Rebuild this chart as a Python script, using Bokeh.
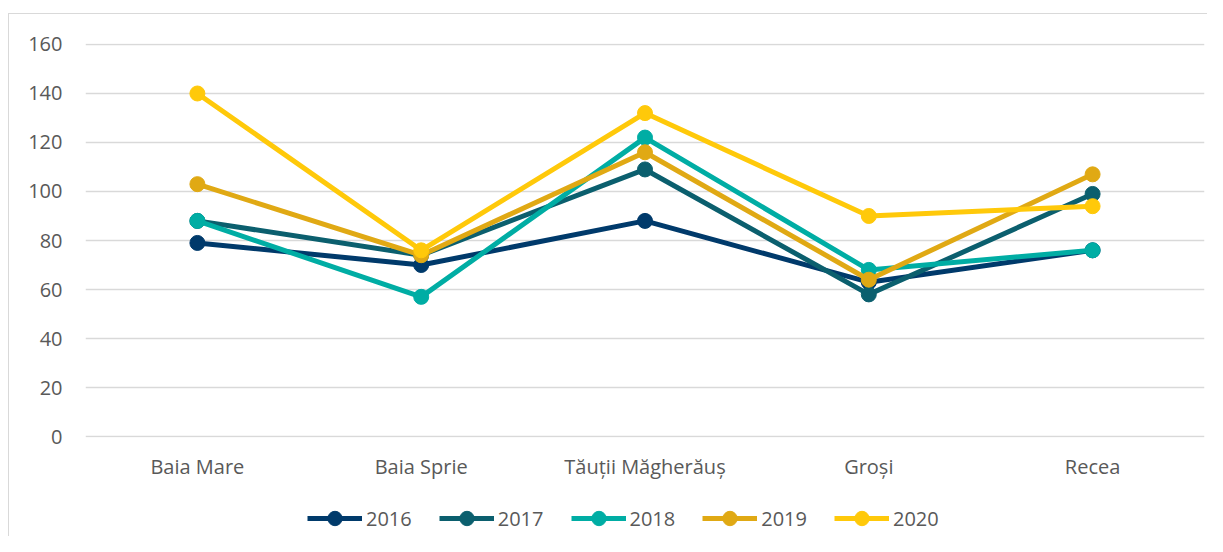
from bokeh.plotting import figure
from bokeh.layouts import column
from bokeh.models import Legend, LegendItem, FixedTicker, Range1d
from bokeh.embed import file_html
from bokeh.resources import INLINE

categories = ["Baia Mare", "Baia Sprie", "Tăuții Măgherăuș", "Groși", "Recea"]
years = ["2016", "2017", "2018", "2019", "2020"]
v2016 = [79, 70, 88, 63, 76]
v2017 = [88, 74, 109, 58, 99]
v2018 = [88, 57, 122, 68, 76]
v2019 = [103, 74, 116, 64, 107]
v2020 = [140, 76, 132, 90, 94]
series = [v2016, v2017, v2018, v2019, v2020]
colors = ["#003A6B", "#0B5F6E", "#00ADA4", "#E0A914", "#FFC90A"]
y_ticks = [0, 20, 40, 60, 80, 100, 120, 140, 160]

FONT = "Open Sans"
TXT = "#595959"

p = figure(x_range=categories, width=1198, height=468, output_backend="svg",
           toolbar_location=None, min_border_left=76, min_border_right=3,
           min_border_top=29, min_border_bottom=45)
p.y_range = Range1d(-0.4, 160.4)
p.x_range.range_padding = 0
p.outline_line_color = None
p.background_fill_color = "white"
p.border_fill_color = "white"

p.yaxis.ticker = FixedTicker(ticks=y_ticks)
for ax in (p.xaxis, p.yaxis):
    ax.axis_line_color = None
    ax.major_tick_line_color = None
    ax.minor_tick_line_color = None
    ax.major_tick_out = 0
    ax.major_tick_in = 0
    ax.major_label_text_font = FONT
    ax.major_label_text_font_size = "20px"
    ax.major_label_text_color = TXT
p.yaxis.major_label_standoff = 23
p.xaxis.major_label_standoff = 15
p.xgrid.grid_line_color = None
p.ygrid.grid_line_color = "#d9d9d9"
p.ygrid.grid_line_width = 1.5
p.ygrid.ticker = FixedTicker(ticks=y_ticks)

for yr, vals, c in zip(years, series, colors):
    p.line(categories, vals, line_color=c, line_width=5, line_join="round")
    p.scatter(categories, vals, size=15, fill_color=c, line_color=c)

# legend-only strip below the chart (series drawn off-range, only legend shows)
lg = figure(x_range=categories, width=1198, height=54, output_backend="svg",
            toolbar_location=None, y_range=Range1d(-20, -10),
            min_border_left=0, min_border_right=0, min_border_top=0,
            min_border_bottom=0)
lg.axis.visible = False
lg.outline_line_color = None
lg.grid.visible = False
lg.border_fill_color = "white"
lg.background_fill_color = "white"
items = []
for yr, vals, c in zip(years, series, colors):
    r1 = lg.line(categories, vals, line_color=c, line_width=5)
    r2 = lg.scatter(categories, vals, size=15, fill_color=c, line_color=c)
    items.append(LegendItem(label=yr, renderers=[r1, r2]))

legend = Legend(items=items, orientation="horizontal", location=(222, 0),
                label_text_font=FONT, label_text_font_size="20px",
                label_text_color=TXT, glyph_width=55, glyph_height=36,
                spacing=27, label_standoff=4, border_line_color=None,
                background_fill_alpha=0, margin=0, padding=0)
lg.add_layout(legend, "center")

layout = column(p, lg, spacing=0)
layout.margin = (13, 0, 0, 8)
layout.styles = {"border-top": "1px solid #d9d9d9", "border-left": "1px solid #d9d9d9"}

open("out.html", "w").write(file_html(layout, INLINE))
